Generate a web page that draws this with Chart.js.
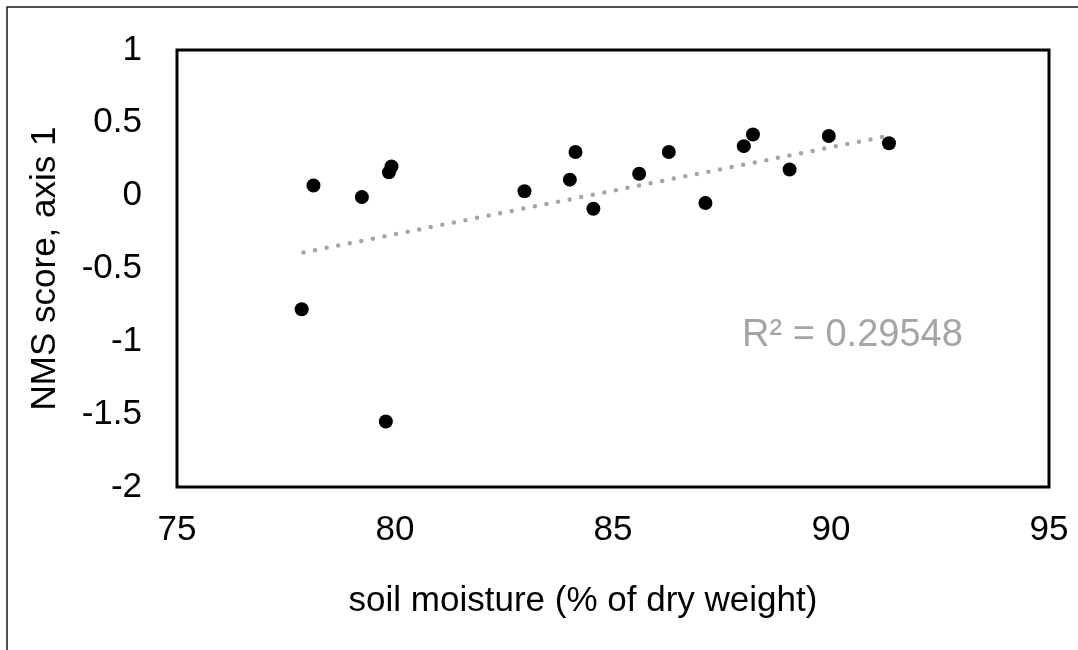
<!DOCTYPE html>
<html>
<head>
<meta charset="utf-8">
<script src="https://cdn.jsdelivr.net/npm/chart.js@4/dist/chart.umd.min.js"></script>
<style>
  html, body { margin: 0; padding: 0; background: #fff; }
  #wrap { width: 1078px; height: 650px; }
</style>
</head>
<body>
<div id="wrap"><canvas id="chart" width="1078" height="650"></canvas></div>
<script>
// soil moisture (% of dry weight) vs NMS axis 1 score
const moisture = [77.86, 78.13, 79.24, 79.86, 79.92, 79.79, 82.97, 84.01, 84.14, 84.55, 85.6, 86.28, 87.12, 88.0, 88.21, 89.05, 89.95, 91.33];
const nmsScore = [-0.78, 0.07, -0.01, 0.16, 0.2, -1.55, 0.03, 0.11, 0.3, -0.09, 0.15, 0.3, -0.05, 0.34, 0.42, 0.18, 0.41, 0.36];

// linear trendline end points
const trendX = [77.9, 91.3];
const trendY = [-0.39, 0.41];
const rSquaredText = "R² = 0.29548";

const xTicks = [75, 80, 85, 90, 95];
const yTicks = [1, 0.5, 0, -0.5, -1, -1.5, -2];
const xTitle = "soil moisture (% of dry weight)";
const yTitle = "NMS score, axis 1";

const fontFamily = "'Liberation Sans', Arial, sans-serif";

const toPoints = (xs, ys) => xs.map((x, i) => ({ x, y: ys[i] }));

// white background, outer chart border, plot frame, x title, R² label
const decorations = {
  id: "decorations",
  beforeDraw(chart) {
    const ctx = chart.ctx;
    ctx.save();
    ctx.fillStyle = "#fff";
    ctx.fillRect(0, 0, chart.width, chart.height);
    ctx.strokeStyle = "#1a1a1a";
    ctx.lineWidth = 1.5;
    ctx.beginPath();
    ctx.moveTo(7, chart.height + 5);
    ctx.lineTo(7, 7);
    ctx.lineTo(chart.width + 5, 7);
    ctx.stroke();
    ctx.restore();
  },
  afterDraw(chart) {
    const { ctx, chartArea, scales } = chart;
    ctx.save();
    ctx.strokeStyle = "#000";
    ctx.lineWidth = 3;
    ctx.strokeRect(chartArea.left, chartArea.top, chartArea.right - chartArea.left, chartArea.bottom - chartArea.top);

    ctx.fillStyle = "#000";
    ctx.font = "35px " + fontFamily;
    ctx.textAlign = "center";
    ctx.textBaseline = "alphabetic";
    ctx.fillText(xTitle, 583, 611);

    ctx.fillStyle = "#a5a5a5";
    ctx.font = "38px " + fontFamily;
    ctx.textAlign = "left";
    ctx.fillText(rSquaredText, scales.x.getPixelForValue(87.96), scales.y.getPixelForValue(-1.03));
    ctx.restore();
  },
};

new Chart(document.getElementById("chart").getContext("2d"), {
  type: "scatter",
  data: {
    datasets: [
      {
        label: "trend",
        type: "line",
        data: toPoints(trendX, trendY),
        borderColor: "#a5a5a5",
        borderWidth: 4.5,
        borderDash: [0, 11.8],
        borderCapStyle: "round",
        pointRadius: 0,
        fill: false,
        order: 0,
      },
      {
        label: "NMS score",
        data: toPoints(moisture, nmsScore),
        backgroundColor: "#000",
        borderWidth: 0,
        pointRadius: 7,
        order: 1,
      },
    ],
  },
  plugins: [decorations],
  options: {
    responsive: false,
    animation: false,
    layout: { padding: { left: 0, top: 50, right: 29, bottom: 0 } },
    plugins: { legend: { display: false }, tooltip: { enabled: false } },
    scales: {
      x: {
        type: "linear",
        min: 75,
        max: 95,
        afterBuildTicks: (axis) => { axis.ticks = xTicks.map((v) => ({ value: v })); },
        afterFit: (axis) => {
          axis.height = 163;
          axis.paddingLeft = 0;
          axis.paddingRight = 0;
        },
        grid: { display: false, drawTicks: false },
        border: { display: false },
        ticks: {
          color: "#000",
          padding: 22,
          font: { family: fontFamily, size: 35 },
          callback: (v) => String(v),
        },
        title: { display: false },
      },
      y: {
        type: "linear",
        min: -2,
        max: 1,
        afterBuildTicks: (axis) => { axis.ticks = yTicks.map((v) => ({ value: v })); },
        afterFit: (axis) => {
          axis.width = 177;
          axis.paddingTop = 0;
          axis.paddingBottom = 0;
        },
        grid: { display: false, drawTicks: false },
        border: { display: false },
        ticks: {
          color: "#000",
          padding: 35,
          font: { family: fontFamily, size: 35 },
          callback: (v) => String(v),
        },
        title: {
          display: true,
          text: yTitle,
          color: "#000",
          font: { family: fontFamily, size: 35 },
          padding: { top: 24, bottom: 0 },
        },
      },
    },
  },
});
</script>
</body>
</html>
